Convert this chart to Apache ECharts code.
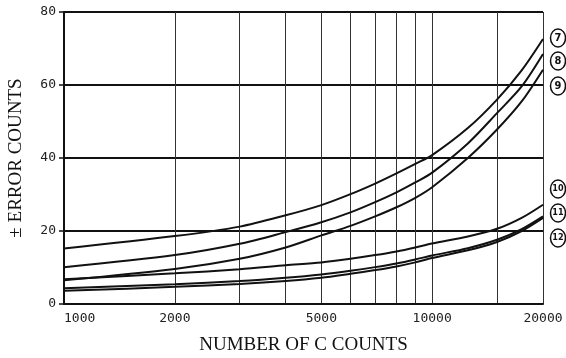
<!DOCTYPE html>
<html>
<head>
<meta charset="utf-8">
<script src="https://cdn.jsdelivr.net/npm/echarts@6/dist/echarts.min.js"></script>
<style>
  html, body { margin: 0; padding: 0; background: #fff; }
  #chart { width: 566px; height: 358px; }
</style>
</head>
<body>
<div id="chart"></div>
<script>
// Number of C counts at which each error curve is sampled
const counts = [1000, 2000, 3000, 4000, 5000, 6000, 7000, 8000, 9000, 10000, 12500, 15000, 17500, 20000];

// ± error counts for curves 7 to 12
const curve7  = [15.2, 18.6, 21.2, 24.3, 27.1, 30.1, 33.0, 35.8, 38.4, 40.8, 48.2, 56.0, 64.0, 72.6];
const curve8  = [10.1, 13.4, 16.5, 19.7, 22.4, 25.1, 27.9, 30.6, 33.3, 36.0, 44.0, 52.3, 59.6, 68.5];
const curve9  = [6.5, 9.6, 12.4, 15.5, 18.8, 21.4, 24.0, 26.5, 29.1, 32.0, 40.0, 47.8, 55.5, 64.2];
const curve10 = [6.8, 8.4, 9.5, 10.6, 11.4, 12.4, 13.4, 14.4, 15.5, 16.6, 18.5, 20.6, 23.6, 27.2];
const curve11 = [4.3, 5.4, 6.3, 7.2, 8.1, 9.1, 10.1, 11.1, 12.2, 13.3, 15.3, 17.6, 20.5, 24.0];
const curve12 = [3.6, 4.7, 5.5, 6.3, 7.2, 8.3, 9.3, 10.3, 11.4, 12.6, 14.7, 17.0, 20.0, 23.6];

const curveNames = ['7', '8', '9', '10', '11', '12'];
const curveValues = [curve7, curve8, curve9, curve10, curve11, curve12];

// Axis ticks and labels
const xGridValues = [1000, 2000, 3000, 4000, 5000, 6000, 7000, 8000, 9000, 10000, 15000, 20000];
const xLabelValues = [1000, 2000, 5000, 10000, 20000];
const yTicks = [0, 20, 40, 60, 80];

// Circled curve tags at the right edge
const tagNames = ['7', '8', '9', '10', '11', '12'];
const tagY = [38, 61, 86, 189, 213, 238];

const chart = echarts.init(document.getElementById('chart'), null, { renderer: 'canvas' });

const tickFont = { fontFamily: 'DejaVu Sans Mono', fontSize: 13, color: '#222' };

const series = curveNames.map((name, i) => ({
  name: name,
  type: 'line',
  smooth: 0.3,
  symbol: 'none',
  lineStyle: { color: '#111', width: 2 },
  data: counts.map((c, j) => [c, curveValues[i][j]]),
  z: 3
}));

const graphics = [];
tagNames.forEach((t, i) => {
  graphics.push({
    type: 'ellipse',
    shape: { cx: 558, cy: tagY[i], rx: 7.5, ry: 9 },
    style: { fill: '#fff', stroke: '#111', lineWidth: 1.5 }
  });
  graphics.push({
    type: 'text',
    x: 558, y: tagY[i],
    style: {
      text: t, fill: '#111',
      font: 'bold ' + (t.length > 1 ? 9 : 11) + 'px "DejaVu Sans Condensed", "DejaVu Sans"',
      textAlign: 'center', textVerticalAlign: 'middle'
    }
  });
});

chart.setOption({
  backgroundColor: '#fff',
  animation: false,
  grid: { left: 64, right: 23, top: 12, bottom: 54, outerBoundsMode: 'none', containLabel: false },
  xAxis: {
    type: 'log',
    logBase: 10,
    min: 1000,
    max: 20000,
    name: 'NUMBER OF C COUNTS',
    nameLocation: 'middle',
    nameGap: 32,
    nameTextStyle: { fontFamily: 'Liberation Serif', fontSize: 19, color: '#111' },
    axisLine: { show: true, onZero: false, lineStyle: { color: '#111', width: 2 } },
    axisTick: { show: false, customValues: xGridValues },
    axisLabel: {
      customValues: xLabelValues,
      margin: 8,
      alignMinLabel: 'left',
      ...tickFont,
      formatter: v => String(Math.round(v))
    },
    splitLine: { show: true, lineStyle: { color: '#333', width: 1 } }
  },
  yAxis: {
    type: 'value',
    min: 0,
    max: 80,
    interval: 20,
    name: '± ERROR COUNTS',
    nameLocation: 'middle',
    nameRotate: 90,
    nameGap: 38,
    nameTextStyle: { fontFamily: 'Liberation Serif', fontSize: 19, color: '#111' },
    axisLine: { show: true, lineStyle: { color: '#111', width: 2 } },
    axisTick: { show: true, length: 5, lineStyle: { color: '#111', width: 1.5 } },
    axisLabel: { margin: 8, ...tickFont, formatter: v => (yTicks.indexOf(v) >= 0 ? String(v) : '') },
    splitLine: { show: true, lineStyle: { color: '#111', width: 2 } }
  },
  series: series,
  graphic: graphics
});
</script>
</body>
</html>
